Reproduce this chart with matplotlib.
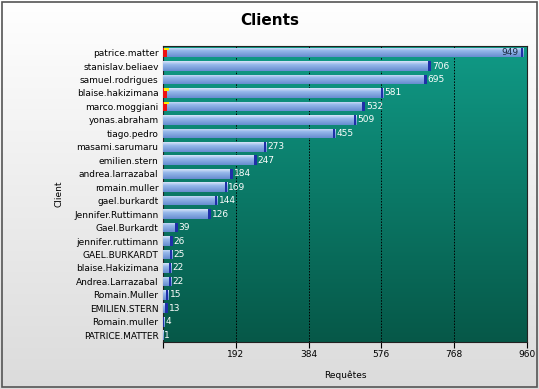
import numpy as np
import matplotlib
matplotlib.use("Agg")
import matplotlib.pyplot as plt
from matplotlib.patches import Rectangle

# data, top to bottom as in the chart
clients = ["patrice.matter", "stanislav.beliaev", "samuel.rodrigues", "blaise.hakizimana",
           "marco.moggiani", "yonas.abraham", "tiago.pedro", "masami.sarumaru",
           "emilien.stern", "andrea.larrazabal", "romain.muller", "gael.burkardt",
           "Jennifer.Ruttimann", "Gael.Burkardt", "jennifer.ruttimann", "GAEL.BURKARDT",
           "blaise.Hakizimana", "Andrea.Larrazabal", "Romain.Muller", "EMILIEN.STERN",
           "Romain.muller", "PATRICE.MATTER"]
requetes = [949, 706, 695, 581, 532, 509, 455, 273, 247, 184, 169, 144, 126, 39,
            26, 25, 22, 22, 15, 13, 4, 1]
erreurs = [12, 0, 0, 12, 12, 0, 0, 0, 0, 0, 0, 0, 0, 0, 0, 0, 0, 0, 0, 0, 0, 0]
xticks = [0, 192, 384, 576, 768, 960]

plt.rcParams['font.family'] = ['DejaVu Sans']
fig = plt.figure(figsize=(5.39, 3.89), dpi=100)

# background gradient of the whole figure
bg = fig.add_axes([0, 0, 1, 1], zorder=-10)
grad = np.linspace(1.0, 0.86, 256).reshape(-1, 1)
bg.imshow(np.dstack([grad, grad, grad]), aspect='auto', extent=[0, 1, 0, 1])
bg.add_patch(Rectangle((0.004, 0.005), 0.992, 0.99, fill=False, ec='#555555', lw=1.2))
bg.set_axis_off()

ax = fig.add_axes([0.302, 0.121, 0.676, 0.761])
n = len(clients)
y = np.arange(n)[::-1]

# teal gradient in plot area
top = np.array([0x10, 0x9a, 0x86]) / 255
bot = np.array([0x06, 0x58, 0x48]) / 255
t = np.linspace(0, 1, 256).reshape(-1, 1, 1)
ax.imshow(top * (1 - t) + bot * t, aspect='auto', extent=[0, 960, -0.5, n - 0.5], zorder=0)

h = 0.72
bars = ax.barh(y, requetes, height=h, color='#8fb2e6', zorder=2)
# gradient on each bar
bgrad = np.linspace(0, 1, 64).reshape(-1, 1, 1)
light = np.array([0xd8, 0xe6, 0xfa]) / 255
mid = np.array([0x96, 0xb8, 0xea]) / 255
dark = np.array([0x66, 0x8c, 0xd0]) / 255
img = np.where(bgrad < 0.35, light * (1 - bgrad / 0.35) + mid * (bgrad / 0.35),
               mid * (1 - (bgrad - 0.35) / 0.65) + dark * ((bgrad - 0.35) / 0.65))
for b, yy, v in zip(bars, y, requetes):
    im = ax.imshow(img, aspect='auto', extent=[0, v, yy - h / 2, yy + h / 2], zorder=3)
    im.set_clip_path(b)
    cap = min(6, v)
    ax.barh(yy, cap, left=v - cap, height=h, color='#1f2fa8', zorder=4)

# small error series at bar start
for yy, e in zip(y, erreurs):
    if e:
        ax.barh(yy, e, height=h, color='#ee1111', zorder=5)
        ax.barh(yy + h / 2 - 0.1, e, left=4, height=0.2, color='#ffee00', zorder=6)

# value labels
for yy, v in zip(y, requetes):
    if v > 900:
        ax.text(v - 12, yy, str(v), ha='right', va='center', fontsize=6.5, color='#1a2a40', zorder=7)
    else:
        ax.text(v + 3, yy, str(v), ha='left', va='center', fontsize=6.5, color='white', zorder=7)

ax.set_xlim(0, 960)
ax.set_ylim(-0.5, n - 0.5)
ax.set_xticks(xticks)
ax.set_xticklabels([str(v) if v else "" for v in xticks], fontsize=6.5)
ax.set_yticks(y)
ax.set_yticklabels(clients, fontsize=6.5)
ax.tick_params(axis='y', length=0, pad=3)
ax.tick_params(axis='x', length=4, pad=2, direction='out')
for xv in xticks[1:]:
    ax.axvline(xv, color='black', ls=(0, (1.5, 1.5)), lw=0.7, zorder=1)
for s in ax.spines.values():
    s.set_color('#222222')
    s.set_linewidth(0.8)

ax.set_xlabel("Requêtes", fontsize=6.5, labelpad=8)
ax.set_ylabel("Client", fontsize=6.5, labelpad=8)
fig.text(0.5, 0.948, "Clients", ha='center', va='center', fontsize=11, fontweight='bold')

fig.savefig("out.png", dpi=100)
